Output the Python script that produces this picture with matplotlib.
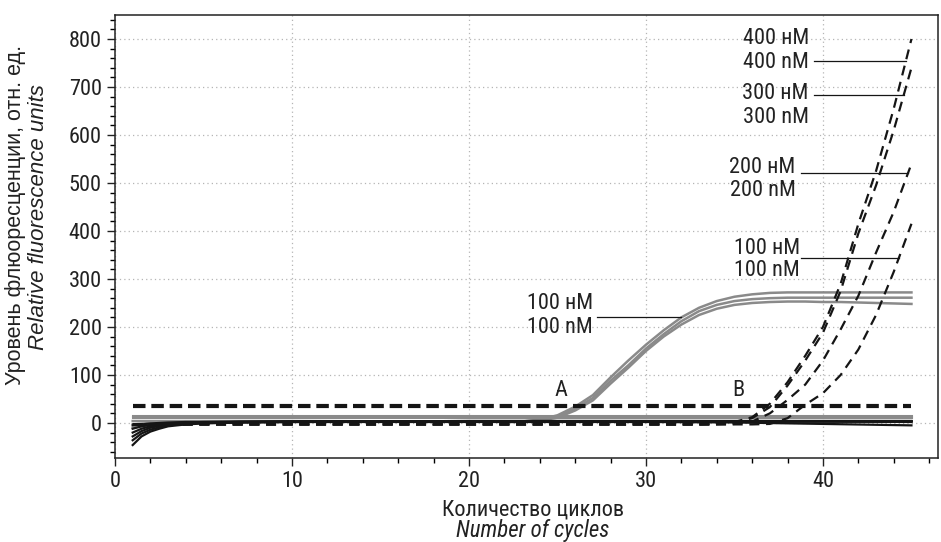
import numpy as np
import matplotlib
matplotlib.use('Agg')
import matplotlib.pyplot as plt
from matplotlib.ticker import MultipleLocator

plt.rcParams['font.family'] = ['Roboto Condensed', 'DejaVu Sans']

# black solid curves (no amplification)
bx = [1, 1.5, 2, 2.5, 3, 4, 5, 7, 10, 20, 30, 35, 40, 45]
black_1 = [-46, -28, -18, -12, -7, -3, -1, 1, 2, 2, 2, 1, -2, -5]
black_2 = [-36, -22, -14, -9, -5, -2, 0, 1, 2, 3, 3, 3, 3, 2]
black_3 = [-28, -17, -10, -6, -3, -1, 1, 2, 3, 3, 3, 3, 3, 3]
black_4 = [-20, -12, -7, -4, -2, 0, 1, 2, 3, 4, 4, 4, 4, 4]
black_5 = [-12, -7, -4, -2, -1, 1, 2, 2, 3, 4, 4, 4, 4, 4]
black_6 = [-5, -3, -1, 0, 1, 2, 2, 3, 3, 4, 4, 4, 4, 4]

# gray flat curves
gx = [1, 45]
gray_flat_1 = [14, 14]
gray_flat_2 = [12, 12]

# gray sigmoid curves, 100 nM (A)
sx = [1, 2, 3, 4, 6, 10, 20, 23, 24, 25, 26, 27, 28, 29, 30, 31, 32, 33, 34,
      35, 36, 37, 38, 39, 40, 41, 42, 43, 44, 45]
sig_top = [4, 4, 4, 4, 4, 4, 3, 3, 7, 16, 34, 58, 95, 130, 163, 193, 220, 240,
           254, 263, 268, 271, 272, 272, 272, 272, 272, 272, 272, 272]
sig_mid = [-3, 0, 2, 3, 3, 3, 3, 3, 6, 13, 30, 52, 88, 120, 155, 185, 212, 233,
           246, 254, 258, 260, 261, 261, 261, 261, 261, 261, 261, 261]
sig_bot = [-10, -4, 0, 2, 3, 3, 3, 2, 5, 11, 26, 47, 82, 115, 150, 180, 205, 225,
           238, 246, 250, 252, 253, 253, 252, 252, 251, 250, 249, 248]

# black dashed curves (B)
dx = [1, 10, 20, 30, 33, 34, 35, 36, 37, 38, 39, 40, 41, 42, 43, 44, 45]
d400 = [-3, -3, -3, -3, -3, -2, 2, 12, 40, 85, 140, 200, 290, 415, 525, 655, 800]
d300 = [-3, -3, -3, -3, -3, -2, 1, 10, 33, 78, 130, 188, 275, 395, 495, 610, 740]
d200 = [-3, -3, -3, -3, -3, -3, -2, 3, 20, 48, 80, 130, 195, 265, 355, 440, 540]
d100 = [-3, -3, -3, -3, -3, -3, -3, -3, -2, 10, 38, 62, 100, 153, 225, 315, 415]

# threshold
tx = [1, 45]
thr = [36, 36]

fig = plt.figure(figsize=(9.41, 5.42), dpi=100)
ax = fig.add_axes([115/941, 1-458/542, (938-115)/941, (458-15)/542])

gray = '#8a8a8a'
blk = '#151515'

ax.plot(gx, gray_flat_1, color=gray, lw=2.2, zorder=2)
ax.plot(gx, gray_flat_2, color=gray, lw=2.2, zorder=2)
for yy in [black_1, black_2, black_3, black_4, black_5, black_6]:
    ax.plot(bx, yy, color=blk, lw=1.6, zorder=3)
for yy in [sig_top, sig_mid, sig_bot]:
    ax.plot(sx, yy, color=gray, lw=1.8, zorder=2)
for yy in [d400, d300, d200, d100]:
    ax.plot(dx, yy, color=blk, lw=1.6, dashes=(4.5, 3), zorder=3)
ax.plot(tx, thr, color=blk, lw=3, dashes=(3, 1.4), zorder=4)

ax.set_xlim(0, 46.5)
ax.set_ylim(-73, 850)
ax.xaxis.set_major_locator(MultipleLocator(10))
ax.xaxis.set_minor_locator(MultipleLocator(2))
ax.yaxis.set_major_locator(MultipleLocator(100))
ax.yaxis.set_minor_locator(MultipleLocator(20))
ax.tick_params(which='major', direction='out', length=6, width=1, labelsize=16,
               colors='#222222')
ax.tick_params(which='minor', direction='out', length=3.5, width=1)
ax.grid(True, which='major', color='#b5b5b5', lw=0.9, ls=(0, (1, 2.5)))
ax.set_axisbelow(True)
for s in ax.spines.values():
    s.set_linewidth(1.1)
    s.set_color('#222222')

fs = 16
tc = '#222222'

def label(x, y1, y2, t1, t2, curve_x, curve_y, y_line, x0):
    ax.text(x, y1, t1, ha='right', va='center', fontsize=fs, color=tc)
    ax.text(x, y2, t2, ha='right', va='center', fontsize=fs, color=tc)
    x1 = np.interp(y_line, curve_y, curve_x)
    ax.plot([x0, x1], [y_line, y_line], color=blk, lw=0.9, zorder=5)

label(39.2, 801, 751, '400 нМ', '400 nM', dx, d400, 755, 39.48)
label(39.2, 686, 636, '300 нМ', '300 nM', dx, d300, 684, 39.48)
label(38.45, 532, 485, '200 нМ', '200 nM', dx, d200, 520, 38.75)
label(38.7, 364, 318, '100 нМ', '100 nM', dx, d100, 343, 38.75)
label(27.0, 249, 199, '100 нМ', '100 nM', sx[:20], sig_top[:20], 220, 27.26)

ax.text(25.2, 68, 'A', ha='center', va='center', fontsize=fs, color=tc)
ax.text(35.2, 68, 'B', ha='center', va='center', fontsize=fs, color=tc)

fig.text(533/941, 1-510/542, 'Количество циклов', ha='center', va='center',
         fontsize=16, color=tc)
fig.text(533/941, 1-531/542, 'Number of cycles', ha='center', va='center',
         fontsize=16.5, color=tc, style='italic')
ylab = ['Liberation Sans', 'DejaVu Sans']
fig.text(16/941, 1-215/542, 'Уровень флюоресценции, отн. ед.', ha='center',
         va='center', fontsize=15.5, color=tc, rotation=90, family=ylab)
fig.text(39/941, 1-217/542, 'Relative fluorescence units', ha='center',
         va='center', fontsize=16, color=tc, rotation=90, style='italic',
         family=ylab)

fig.savefig('out.png', dpi=100)
